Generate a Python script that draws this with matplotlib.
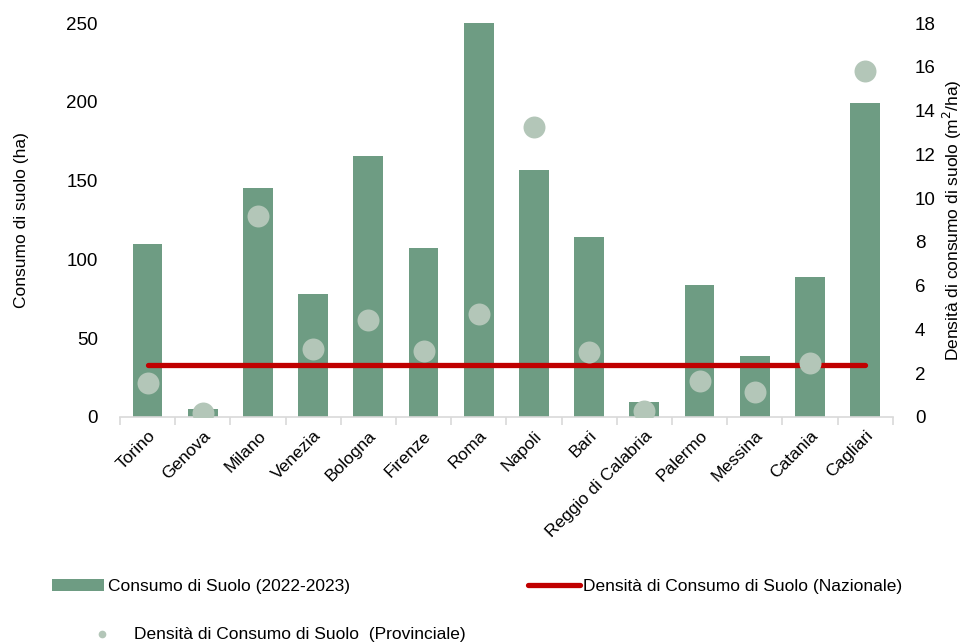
import matplotlib
matplotlib.use('Agg')
import matplotlib.pyplot as plt
import numpy as np

plt.rcParams['font.family'] = ['Liberation Sans', 'DejaVu Sans']

citta = ['Torino', 'Genova', 'Milano', 'Venezia', 'Bologna', 'Firenze', 'Roma',
         'Napoli', 'Bari', 'Reggio di Calabria', 'Palermo', 'Messina', 'Catania', 'Cagliari']
consumo_ha = [110, 5, 145.5, 78, 165.5, 107.5, 251, 156.5, 114.5, 9.7, 84, 39, 89, 199]
densita_prov = [1.55, 0.2, 9.2, 3.1, 4.42, 3.0, 4.72, 13.24, 2.95, 0.27, 1.65, 1.16, 2.47, 15.83]
densita_naz = 2.37

verde = '#6e9c83'
verde_chiaro = '#b3c6b8'
rosso = '#c00000'

fig = plt.figure(figsize=(9.63, 6.43), dpi=100)
ax = fig.add_axes([0.1246, 0.3515, 0.8024, 0.6127])
ax2 = ax.twinx()

x = np.arange(len(citta))
barre = ax.bar(x, consumo_ha, width=0.54, color=verde, zorder=2,
               label='Consumo di Suolo (2022-2023)')
linea, = ax2.plot([x[0], x[-1]], [densita_naz, densita_naz], color=rosso, lw=3.8,
                  solid_capstyle='round', zorder=2,
                  label='Densità di Consumo di Suolo (Nazionale)')
punti = ax2.scatter(x, densita_prov, s=250, color=verde_chiaro, zorder=3, linewidths=0,
                    label='Densità di Consumo di Suolo  (Provinciale)')

ax.set_xlim(-0.5, len(citta) - 0.5)
ax.set_ylim(0, 250)
ax2.set_ylim(0, 18)
ax.set_yticks([0, 50, 100, 150, 200, 250])
ax2.set_yticks(range(0, 19, 2))

for a in (ax, ax2):
    for s in ('top', 'left', 'right', 'bottom'):
        a.spines[s].set_visible(False)
ax.spines['bottom'].set_visible(True)
ax.spines['bottom'].set_color('#d9d9d9')
ax.spines['bottom'].set_linewidth(1.2)

ax.set_xticks(x)
ax.set_xticklabels(citta, rotation=45, ha='right', rotation_mode='anchor', fontsize=12.5)
ax.set_xticks(np.arange(-0.5, len(citta), 1), minor=True)
ax.tick_params(axis='x', which='major', length=0, pad=8)
ax.tick_params(axis='x', which='minor', length=6, color='#d9d9d9', width=1.2)
ax.tick_params(axis='y', length=0, labelsize=13.5, pad=16)
ax2.tick_params(axis='y', length=0, labelsize=13.5, pad=16)

ax.set_ylabel('Consumo di suolo (ha)', fontsize=12.5, labelpad=27)
ax2.set_ylabel('Densità di consumo di suolo (m$^2$/ha)', fontsize=12.5, labelpad=4)

fig.legend(handles=[barre, linea], loc='upper left', bbox_to_anchor=(0.038, 0.124),
           ncol=2, frameon=False, fontsize=12.5, handlelength=3.0, handletextpad=0.2,
           columnspacing=10.25)
fig.legend(handles=[punti], loc='upper left', bbox_to_anchor=(0.081, 0.05),
           frameon=False, fontsize=12.5, handlelength=1.0, handletextpad=1.3,
           markerscale=0.35)

fig.savefig('out.png', dpi=100)
